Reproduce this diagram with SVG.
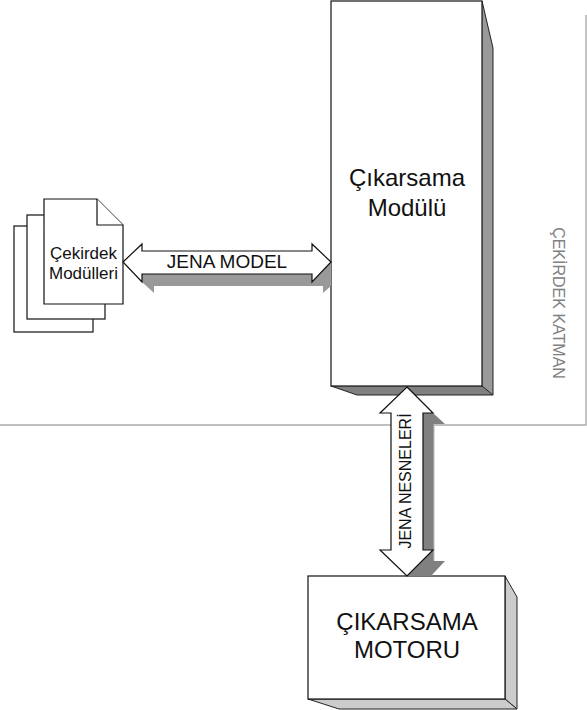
<svg xmlns="http://www.w3.org/2000/svg" width="587" height="710" viewBox="0 0 587 710">
<style>
.ln{stroke:#111;stroke-width:1.2;fill:#fff;stroke-linejoin:miter}
.sd{fill:#999;stroke:none}
.dk{fill:#808080;stroke:none}
.t{font-family:"Liberation Sans",Arial,sans-serif;fill:#111;text-anchor:middle}
</style>
<rect width="587" height="710" fill="#fff"/>
<g id="core-layer">
<path d="M586 15V425H0" fill="none" stroke="#aaa" stroke-width="1.4"/>
<text class="t" transform="translate(553,303) rotate(90)" font-size="16" style="fill:#808080">ÇEKİRDEK KATMAN</text>
</g>
<g id="cikarsama-modulu">
<path class="sd" d="M482 1L493 48V395L482 386Z"/>
<path class="dk" d="M331 386L357 395H493L482 386Z"/>
<path d="M482 1L493 48V395L482 386M331 386L357 395H493" fill="none" stroke="#222" stroke-width="1"/>
<rect class="ln" x="331" y="1" width="151" height="385"/>
<text class="t" x="407" y="186" font-size="24">Çıkarsama</text>
<text class="t" x="407" y="216" font-size="24">Modülü</text>
</g>
<g id="cikarsama-motoru">
<path d="M505 576L517 597V709L505 699Z" fill="#ccc" stroke="#222" stroke-width="1"/>
<path d="M308 699L339 709H517L505 699Z" fill="#ccc" stroke="#222" stroke-width="1"/>
<rect class="ln" x="308" y="576" width="197" height="123"/>
<text class="t" x="407" y="630" font-size="24">ÇIKARSAMA</text>
<text class="t" x="407" y="658" font-size="24">MOTORU</text>
</g>
<g id="cekirdek-modulleri">
<rect class="ln" x="14" y="226" width="79" height="106"/>
<rect class="ln" x="27" y="215" width="78" height="104"/>
<path class="ln" d="M44 199H97L123 225V304H44Z"/>
<path class="ln" d="M97 199V225H123" fill="none"/>
<text class="t" x="83.5" y="259" font-size="17">Çekirdek</text>
<text class="t" x="83.5" y="279" font-size="17">Modülleri</text>
</g>
<g id="connectors">
<g id="jena-model">
<path class="sd" d="M142 274H312L331 262V286L323 293V286H154V293L142 282Z"/>
<path class="ln" d="M123 262L142 244V251H312V244L331 262L312 282V274H142V282Z"/>
<text class="t" x="227" y="268" font-size="19">JENA MODEL</text>
</g>
<g id="jena-nesneleri">
<path class="dk" d="M423 413H433L445 424H434V561H445L431 576H407L433 550H423Z"/>
<path d="M434 424V561" stroke="#bbb" stroke-width="1" fill="none"/>
<path class="ln" d="M407 387L433 413H423V550H433L407 576L380 550H391V413H380Z"/>
<text class="t" transform="translate(411,481) rotate(-90)" font-size="16">JENA NESNELERİ</text>
</g>
</g>
</svg>
